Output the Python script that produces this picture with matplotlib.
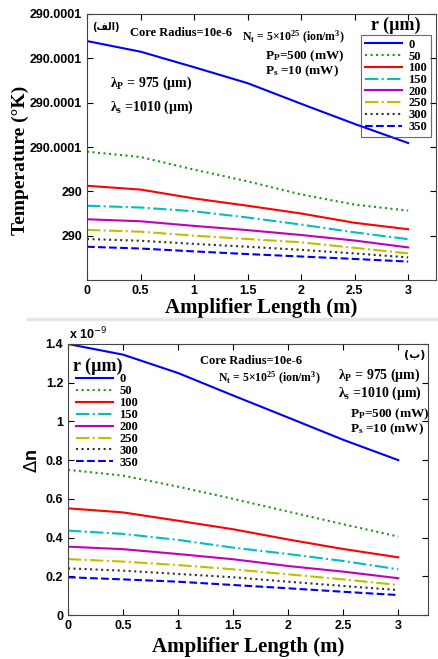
import numpy as np
import matplotlib
matplotlib.use("Agg")
import matplotlib.pyplot as plt
from matplotlib.lines import Line2D

plt.rcParams['mathtext.fontset'] = 'custom'
plt.rcParams['mathtext.rm'] = 'Liberation Serif:bold'
plt.rcParams['mathtext.it'] = 'Liberation Serif:bold:italic'
plt.rcParams['mathtext.bf'] = 'Liberation Serif:bold'

# amplifier length (m)
length = [0, 0.5, 1, 1.5, 2, 2.5, 3]
radii = ['0', '50', '100', '150', '200', '250', '300', '350']

# temperature rise above 290 K, in units of 1e-5 K
temp_r0 = [10.78, 10.30, 9.60, 8.88, 7.95, 7.04, 6.18]
temp_r50 = [5.79, 5.55, 4.98, 4.45, 3.86, 3.40, 3.13]
temp_r100 = [4.25, 4.08, 3.68, 3.35, 3.00, 2.58, 2.29]
temp_r150 = [3.35, 3.27, 3.10, 2.82, 2.50, 2.15, 1.84]
temp_r200 = [2.74, 2.65, 2.44, 2.25, 2.03, 1.78, 1.47]
temp_r250 = [2.26, 2.18, 2.00, 1.85, 1.70, 1.45, 1.20]
temp_r300 = [1.85, 1.77, 1.63, 1.50, 1.36, 1.20, 1.02]
temp_r350 = [1.50, 1.42, 1.29, 1.17, 1.06, 0.95, 0.83]
temp_ticks = [2, 4, 6, 8, 10, 12]
temp_labels = ['290', '290', '290.0001', '290.0001', '290.0001', '290.0001']

# refractive index change, in units of 1e-9 (panel b)
dn_r0 = [1.40, 1.345, 1.25, 1.134, 1.02, 0.905, 0.80]
dn_r50 = [0.75, 0.72, 0.663, 0.60, 0.534, 0.469, 0.405]
dn_r100 = [0.551, 0.53, 0.487, 0.443, 0.39, 0.341, 0.298]
dn_r150 = [0.436, 0.419, 0.388, 0.348, 0.315, 0.279, 0.236]
dn_r200 = [0.353, 0.34, 0.315, 0.288, 0.253, 0.224, 0.19]
dn_r250 = [0.289, 0.276, 0.258, 0.236, 0.21, 0.184, 0.155]
dn_r300 = [0.241, 0.229, 0.212, 0.195, 0.172, 0.15, 0.129]
dn_r350 = [0.195, 0.184, 0.172, 0.155, 0.138, 0.12, 0.103]

temps = [temp_r0, temp_r50, temp_r100, temp_r150, temp_r200, temp_r250, temp_r300, temp_r350]
dns = [dn_r0, dn_r50, dn_r100, dn_r150, dn_r200, dn_r250, dn_r300, dn_r350]

styles = [('#0000ff', '-'), ('#1a9a1a', ':'), ('#ff0000', '-'), ('#00bfbf', '-.'),
          ('#bf00bf', '-'), ('#bfbf00', '-.'), ('#333333', ':'), ('#0000ff', '--')]

SERIF = 'Liberation Serif'
SANS = 'Liberation Sans'
W, H = 438, 659

fig = plt.figure(figsize=(W / 100, H / 100), dpi=100)


def px_axes(left, top, right, bottom):
    return fig.add_axes([left / W, 1 - bottom / H, (right - left) / W, (bottom - top) / H])


def style_axes(ax):
    ax.tick_params(direction='in', top=True, right=True, length=4, width=0.8)
    for lbl in ax.get_xticklabels() + ax.get_yticklabels():
        lbl.set_fontfamily(SANS)
        lbl.set_fontweight('bold')
        lbl.set_fontsize(9)
    for s in ax.spines.values():
        s.set_color('#444444')
        s.set_linewidth(0.8)


def label(x, y, s, size=9, **kw):
    fig.text(x / W, 1 - y / H, s, fontfamily=SERIF, fontweight='bold', fontsize=size,
             va='center', **kw)


# ---- panel (a): temperature ----
ax1 = px_axes(87, 14, 436, 280)
for (c, ls), y, r in zip(styles, temps, radii):
    ax1.plot(length, y, color=c, linestyle=ls, linewidth=1.5, label=r)
ax1.set_xlim(0, 3.26)
ax1.set_ylim(0, 12)
ax1.set_xticks([0, 0.5, 1, 1.5, 2, 2.5, 3])
ax1.set_xticklabels(['0', '0.5', '1', '1.5', '2', '2.5', '3'])
ax1.set_yticks(temp_ticks)
ax1.set_yticklabels(temp_labels)
style_axes(ax1)
ax1.set_xlabel('Amplifier Length (m)', fontfamily=SERIF, fontweight='bold', fontsize=15, labelpad=1)
ax1.set_ylabel('Temperature (°K)', fontfamily=SERIF, fontweight='bold', fontsize=14)
ax1.yaxis.set_label_coords(-0.165, 0.45)

leg1 = ax1.legend(loc='upper left', bbox_to_anchor=((361 - 87) / 349, 1 - (35 - 14) / 266),
                  prop={'family': SERIF, 'weight': 'bold', 'size': 9},
                  handlelength=3.0, labelspacing=-0.02, borderpad=0.3, handletextpad=0.5,
                  borderaxespad=0, fancybox=False, edgecolor='#444444', facecolor='none')
leg1.get_frame().set_linewidth(0.8)
fig.text(396 / W, 1 - 25 / H, 'r (µm)', fontfamily=SERIF, fontweight='bold', fontsize=13,
         ha='center', va='center')

fig.text(92 / W, 1 - 27 / H, '(\ufed2\ufedf\u0627)', family=['DejaVu Sans'], fontweight='bold',
         fontsize=7, va='center')
label(130, 33, 'Core Radius=10e-6', 9)
label(242, 37, 'N$_\\mathrm{t}$ = 5$\\times$10$^{25}$ (ion/m$^3$)', 8.5)
label(265, 56, 'P$_\\mathrm{P}$=500 (mW)', 9.5)
label(265, 71, 'P$_\\mathrm{s}$ =10 (mW)', 9.5)
label(110, 83, 'λ$_\\mathrm{P}$ = 975 (µm)', 10)
label(110, 107, 'λ$_\\mathrm{s}$ =1010 (µm)', 10)

# separator left over from the stacked figure
fig.add_artist(Line2D([28 / W, 1], [1 - 319 / H, 1 - 319 / H], color='#e6e6e6', linewidth=2.5))

# ---- panel (b): refractive index change ----
ax2 = px_axes(68, 344, 428, 615)
for (c, ls), y, r in zip(styles, dns, radii):
    ax2.plot(length, y, color=c, linestyle=ls, linewidth=1.5, label=r)
ax2.set_xlim(0, 3.27)
ax2.set_ylim(0, 1.4)
ax2.set_xticks([0, 0.5, 1, 1.5, 2, 2.5, 3])
ax2.set_xticklabels(['0', '0.5', '1', '1.5', '2', '2.5', '3'])
ax2.set_yticks([0, 0.2, 0.4, 0.6, 0.8, 1.0, 1.2, 1.4])
ax2.set_yticklabels(['0', '0.2', '0.4', '0.6', '0.8', '1', '1.2', '1.4'])
style_axes(ax2)
ax2.set_xlabel('Amplifier Length (m)', fontfamily=SERIF, fontweight='bold', fontsize=15, labelpad=4)
ax2.set_ylabel('$\\Delta$n', fontfamily=SANS, fontweight='bold', fontsize=13,
               math_fontfamily='dejavusans')
ax2.yaxis.set_label_coords(-0.075, 0.57)
fig.text(69 / W, 1 - 334 / H, 'x 10$^{-9}$', fontfamily=SANS, fontweight='bold', fontsize=9,
         va='center', math_fontfamily='dejavusans')

leg2 = ax2.legend(loc='upper left', bbox_to_anchor=((73 - 68) / 360, 1 - (371 - 344) / 271),
                  prop={'family': SERIF, 'weight': 'bold', 'size': 9},
                  handlelength=3.0, labelspacing=-0.01, borderpad=0.2, handletextpad=0.5,
                  borderaxespad=0, frameon=False)
label(73, 366, 'r (µm)', 13)

fig.text(415 / W, 1 - 355 / H, '(\u0628)', family=['DejaVu Sans'], fontweight='bold',
         fontsize=8, va='center', ha='center')
label(200, 361, 'Core Radius=10e-6', 9)
label(218, 378, 'N$_\\mathrm{t}$ = 5$\\times$10$^{25}$ (ion/m$^3$)', 8.5)
label(338, 375, 'λ$_\\mathrm{P}$ = 975 (µm)', 10)
label(338, 393, 'λ$_\\mathrm{s}$ =1010 (µm)', 10)
label(350, 414, 'P$_\\mathrm{P}$=500 (mW)', 9.5)
label(350, 429, 'P$_\\mathrm{s}$ =10 (mW)', 9.5)

fig.savefig('out.png', dpi=100)
